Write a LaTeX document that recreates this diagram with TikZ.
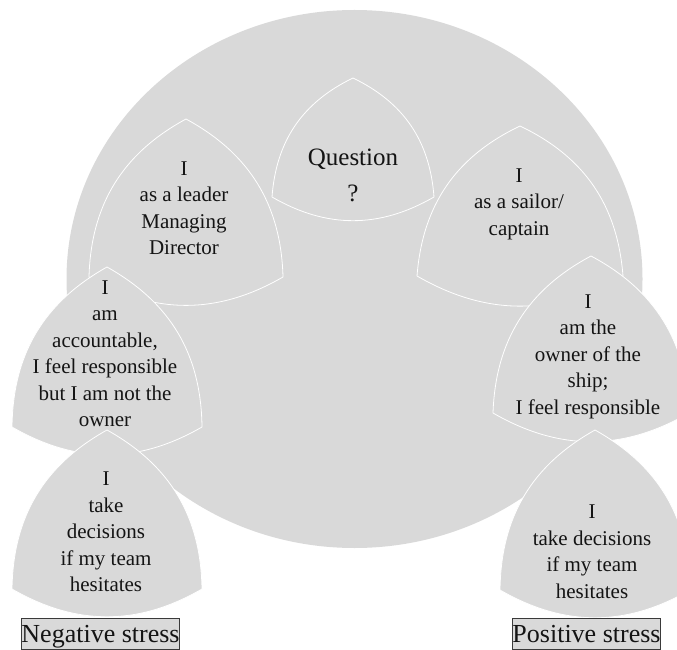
\documentclass[tikz,border=0pt]{standalone}
\usepackage{fontspec}
\setmainfont{Liberation Serif}
\usepackage{xcolor}
\usetikzlibrary{positioning}
\definecolor{cdisc}{HTML}{D9D9D9}
\definecolor{cframe}{HTML}{3A3A3A}
\definecolor{cink}{HTML}{141414}
% curved triangle: apex x, apex y, half width, height
\newcommand{\petal}[4]{%
  \draw[petal] (#1,#2) to[bend left=30] (#1+#3,#2-#4)
    to[bend left=30] (#1-#3,#2-#4) to[bend left=30] (#1,#2) -- cycle;}

\begin{document}
\begin{tikzpicture}[x=1pt,y=1pt,
    petal/.style={draw=white,fill=cdisc,line width=0.8pt,line join=round},
    txt/.style={align=center,inner sep=0pt,text=cink,
                font=\fontsize{21}{26.5}\selectfont},
    big/.style={txt,font=\fontsize{25}{36}\selectfont},
    stress/.style={draw=cframe,fill=cdisc,line width=0.8pt,inner xsep=0pt,
                   inner ysep=0pt,text height=24pt,text depth=7pt,text=cink,
                   font=\fontsize{26}{30}\selectfont}]
    \clip (0,0) rectangle (677,649);
    % the disc behind everything
    \fill[cdisc] (354.5,370) ellipse [x radius=288,y radius=269];
    % petals, back to front
    \petal{353}{571}{81}{119}
    \petal{186}{530}{97}{158}
    \petal{520}{523}{103}{150}
    \petal{107}{382}{95}{160}
    \petal{591}{393}{98}{157}
    \petal{107}{219}{95}{159}
    \petal{595}{219}{95}{160}
    % texts
    \node[big] (quest)  at (353,474)   {Question\\?};
    \node[txt] (leader) at (184,441)   {I\\as a leader\\Managing\\Director};
    \node[txt] (sailor) at (519,445)   {I\\as a sailor/\\captain};
    \node[txt] (acct)   at (105,295.5) {I\\am\\accountable,\\I feel responsible\\but I am not the\\owner};
    \node[txt] (owner)  at (588,292.5) {I\\am the\\owner of the\\ship;\\I feel responsible};
    \node[txt] (negdec) at (106,117)   {I\\take\\decisions\\if my team\\hesitates};
    \node[txt] (posdec) at (592,97.5)  {I\\take decisions\\if my team\\hesitates};
    % stress labels
    \node[stress,anchor=base] (neg) at (100.5,7) {Negative stress};
    \node[stress,anchor=base] (pos) at (586.5,7) {Positive stress};
  \end{tikzpicture}
\end{document}
